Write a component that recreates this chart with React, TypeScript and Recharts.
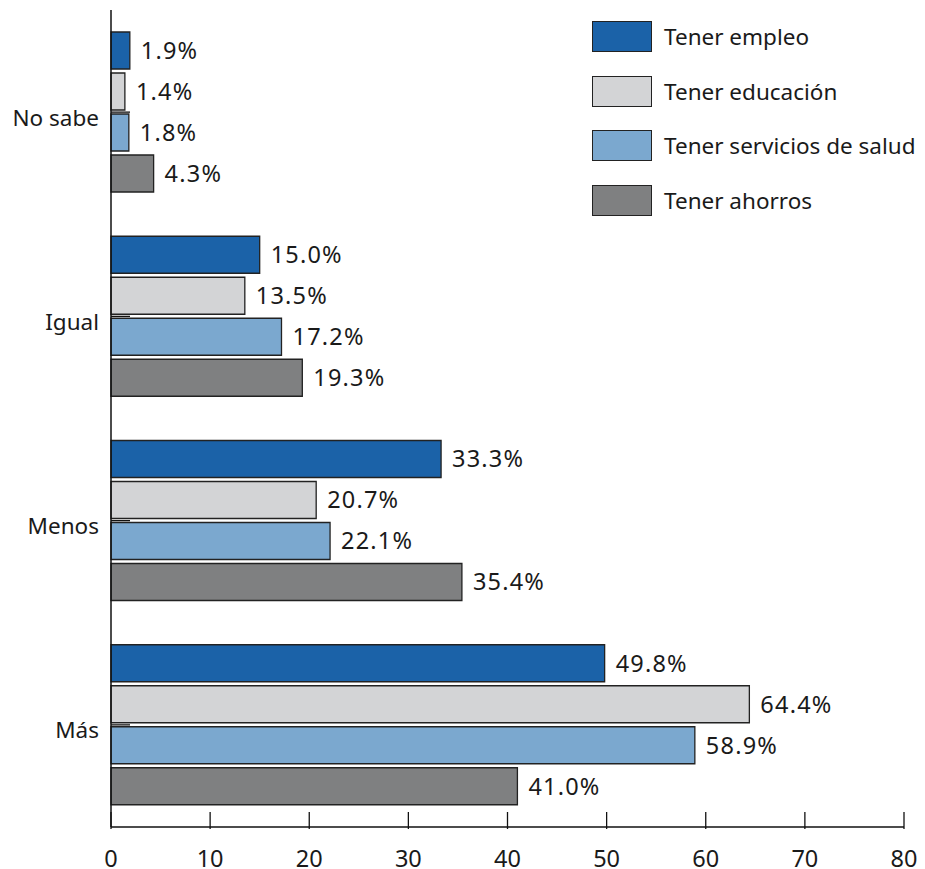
import React from "react";
import { BarChart, Bar, XAxis, YAxis, LabelList } from "recharts";

const categories = ["No sabe", "Igual", "Menos", "Más"];
const empleo = [1.9, 15.0, 33.3, 49.8];
const educacion = [1.4, 13.5, 20.7, 64.4];
const salud = [1.8, 17.2, 22.1, 58.9];
const ahorros = [4.3, 19.3, 35.4, 41.0];
const xTicks = [0, 10, 20, 30, 40, 50, 60, 70, 80];

const seriesNames = ["Tener empleo", "Tener educación", "Tener servicios de salud", "Tener ahorros"];
const seriesKeys = ["empleo", "educacion", "salud", "ahorros"];
const seriesColors = ["#1b62a8", "#d3d4d6", "#7ba8cf", "#7f8081"];

const data = categories.map((name, i) => ({
  name,
  empleo: empleo[i],
  educacion: educacion[i],
  salud: salud[i],
  ahorros: ahorros[i],
}));

const FONT = "'Noto Sans', sans-serif";
const FS = 22.5;
const NFS = 23.5;
const TXT = "#1a1a1a";

const XTick = (props: any) => {
  const { x, y, payload } = props;
  return (
    <g>
      <line x1={x} x2={x} y1={y} y2={y - 17} stroke="#111" strokeWidth={1.3} />
      <text x={x} y={y + 29} textAnchor="middle" dominantBaseline="central" fontSize={NFS} fontFamily={FONT} fill={TXT}>
        {payload.value}
      </text>
    </g>
  );
};

const YTick = (props: any) => {
  const { x, y, payload } = props;
  return (
    <g>
      <line x1={x} x2={x + 19} y1={y} y2={y} stroke="#111" strokeWidth={1.3} />
      <text x={x - 12} y={y + 5} textAnchor="end" dominantBaseline="central" fontSize={FS} fontFamily={FONT} fill={TXT}>
        {payload.value}
      </text>
    </g>
  );
};

const LegendBox = () => (
  <div style={{ position: "absolute", left: 592, top: 9, fontFamily: FONT, fontSize: FS, color: TXT }}>
    {seriesNames.map((n, i) => (
      <div key={n} style={{ display: "flex", alignItems: "center", height: 54.7 }}>
        <div
          style={{
            width: 58,
            height: 29,
            background: seriesColors[i],
            border: "1.3px solid #222",
            marginRight: 12,
            boxSizing: "content-box",
          }}
        />
        <span style={{ whiteSpace: "nowrap" }}>{n}</span>
      </div>
    ))}
  </div>
);

export default function App() {
  return (
    <div style={{ position: "absolute", left: 0, top: 0, width: 925, height: 869, background: "#fff" }}>
      <BarChart
        width={925}
        height={869}
        data={data}
        layout="vertical"
        margin={{ top: 10, right: 21, bottom: 0, left: 0 }}
        barSize={37}
        barGap={4}
      >
        <XAxis
          type="number"
          domain={[0, 80]}
          ticks={xTicks}
          height={42}
          axisLine={{ stroke: "#111", strokeWidth: 1.5 }}
          tickLine={false}
          tickSize={0}
          tick={<XTick />}
          interval={0}
        />
        <YAxis
          type="category"
          dataKey="name"
          width={111}
          axisLine={{ stroke: "#111", strokeWidth: 1.5 }}
          tickLine={false}
          tickSize={0}
          tickMargin={0}
          tick={<YTick />}
          interval={0}
        />
        {seriesKeys.map((k, i) => (
          <Bar
            key={k}
            dataKey={k}
            name={seriesNames[i]}
            fill={seriesColors[i]}
            stroke="#222"
            strokeWidth={1.3}
            isAnimationActive={false}
          >
            <LabelList
              dataKey={k}
              position="right"
              offset={11}
              formatter={(v: any) => `${Number(v).toFixed(1)}%`}
              style={{ fontSize: NFS, fontFamily: FONT, fill: TXT, letterSpacing: 1.2 }}
            />
          </Bar>
        ))}
      </BarChart>
      <LegendBox />
    </div>
  );
}
